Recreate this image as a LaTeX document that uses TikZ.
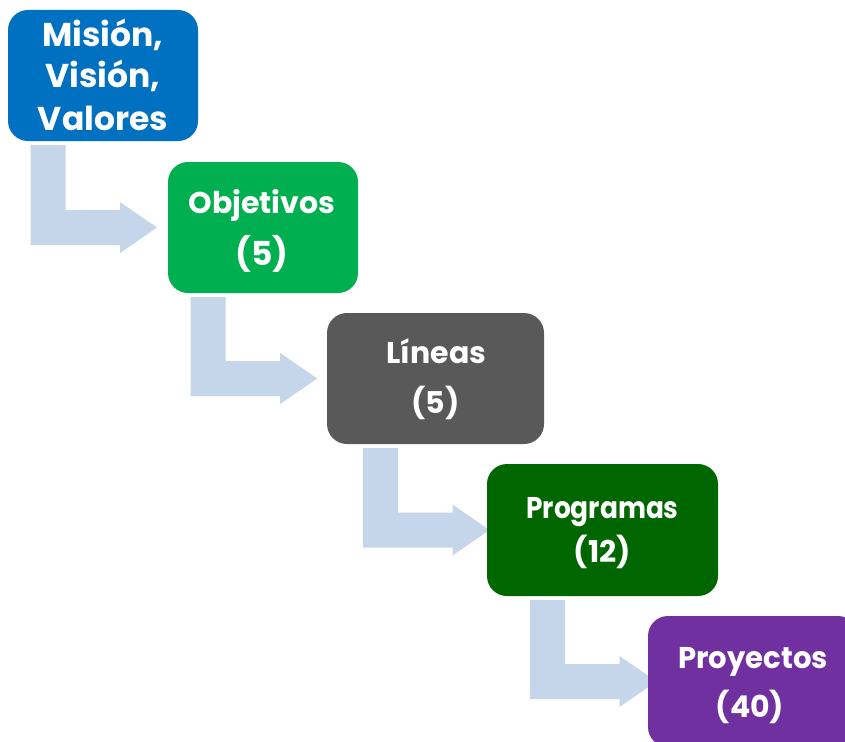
\documentclass[tikz,border=0pt]{standalone}
\usepackage{fontspec}
\setmainfont{Poppins}
\usetikzlibrary{calc,backgrounds}
\definecolor{arrowc}{RGB}{197,213,234}
\definecolor{c1}{RGB}{0,112,192}
\definecolor{c2}{RGB}{0,176,80}
\definecolor{c3}{RGB}{89,89,89}
\definecolor{c4}{RGB}{0,102,0}
\definecolor{c5}{RGB}{112,48,160}
\newcommand{\bentarr}[3]{%
  \fill[arrowc] let \p1=(#2.south), \p2=(#3.west) in
    ({#1pt},{\y1-4pt}) -- ({#1pt+35pt},{\y1-4pt}) -- ({#1pt+35pt},{\y2+17.5pt})
    -- ({#1pt+89.5pt},{\y2+17.5pt}) -- ({#1pt+89.5pt},{\y2+25.5pt})
    -- ({#1pt+126.5pt},{\y2}) -- ({#1pt+89.5pt},{\y2-25.5pt})
    -- ({#1pt+89.5pt},{\y2-17.5pt}) -- ({#1pt},{\y2-17.5pt}) -- cycle;}
\begin{document}
\begin{tikzpicture}[x=1pt,y=-1pt,
  box/.style={rectangle, rounded corners=20pt, inner sep=0pt, draw=none},
  lbl/.style={anchor=base, text=white, inner sep=0pt, font=\bfseries\fontsize{30}{30}\selectfont},
  bigl/.style={lbl, font=\bfseries\fontsize{33}{33}\selectfont}]
\useasboundingbox (0,0) rectangle (845,741);
\clip (0,0) rectangle (845,741);
\node[box, fill=c1, minimum width=190pt, minimum height=131pt] (b1) at (103,75.5) {};
\node[box, fill=c2, minimum width=190pt, minimum height=131pt] (b2) at (263,227.5) {};
\node[box, fill=c3, minimum width=217pt, minimum height=131pt] (b3) at (435.5,378.5) {};
\node[box, fill=c4, minimum width=231pt, minimum height=132pt] (b4) at (602.5,530) {};
\node[box, fill=c5, minimum width=210pt, minimum height=131pt] (b5) at (753,681.5) {};
\begin{scope}[on background layer]
\bentarr{30.5}{b1}{b2}
\bentarr{190.7}{b2}{b3}
\bentarr{363}{b3}{b4}
\bentarr{530}{b4}{b5}
\end{scope}
\node[bigl] (t1a) at (103,47) {Misión,};
\node[bigl] (t1b) at (103,88) {Visión,};
\node[bigl] (t1c) at (103,130) {Valores};
\node[lbl] (t2a) at (262,213) {Objetivos};
\node[bigl] (t2b) at (262,265) {(5)};
\node[lbl] (t3a) at (436.5,363) {Líneas};
\node[lbl] (t3b) at (435.5,413) {(5)};
\node[lbl] (t4a) at (602.5,518) {\scalebox{0.88}[1]{Programas}};
\node[lbl] (t4b) at (602.5,562) {(12)};
\node[lbl] (t5a) at (753,668) {\scalebox{0.97}[1]{Proyectos}};
\node[lbl] (t5b) at (750,717) {(40)};
\end{tikzpicture}
\end{document}
